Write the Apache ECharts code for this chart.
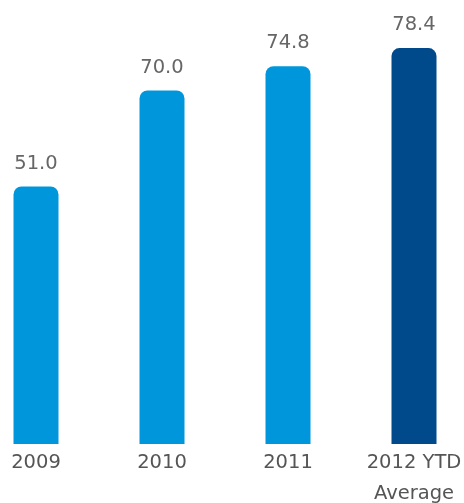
<!DOCTYPE html>
<html>
<head>
<meta charset="utf-8">
<style>
  html, body { margin: 0; padding: 0; background: #fff; }
  #chart { width: 464px; height: 503px; }
</style>
<script src="https://cdn.jsdelivr.net/npm/echarts@6/dist/echarts.min.js"></script>
</head>
<body>
<div id="chart"></div>
<script>
// Yearly values; the last period is a year-to-date average.
const categories = ['2009', '2010', '2011', '2012 YTD\nAverage'];
const values = [51.0, 70.0, 74.8, 78.4];
const barColors = ['#0096DB', '#0096DB', '#0096DB', '#004A8C'];

const chart = echarts.init(document.getElementById('chart'), null, { renderer: 'canvas' });

const textFont = '"DejaVu Sans", Verdana, sans-serif';

chart.setOption({
  animation: false,
  grid: {
    left: 36, right: 50, top: 40, bottom: 59,
    containLabel: false,
    outerBoundsMode: 'none'
  },
  xAxis: {
    type: 'category',
    data: categories,
    boundaryGap: false,
    axisLine: { show: false },
    axisTick: { show: false },
    axisLabel: {
      color: '#555',
      fontFamily: textFont,
      fontSize: 19.5,
      lineHeight: 31,
      margin: 3,
      interval: 0
    }
  },
  yAxis: {
    type: 'value',
    min: 0,
    max: 80,
    show: false,
    splitLine: { show: false }
  },
  series: [{
    type: 'bar',
    barWidth: 45,
    data: values.map((v, i) => ({ value: v, itemStyle: { color: barColors[i] } })),
    itemStyle: { borderRadius: [8, 8, 0, 0] },
    label: {
      show: true,
      position: 'top',
      distance: 13,
      color: '#666',
      fontFamily: textFont,
      fontSize: 19.5,
      formatter: p => p.value.toFixed(1)
    }
  }]
});
</script>
</body>
</html>
